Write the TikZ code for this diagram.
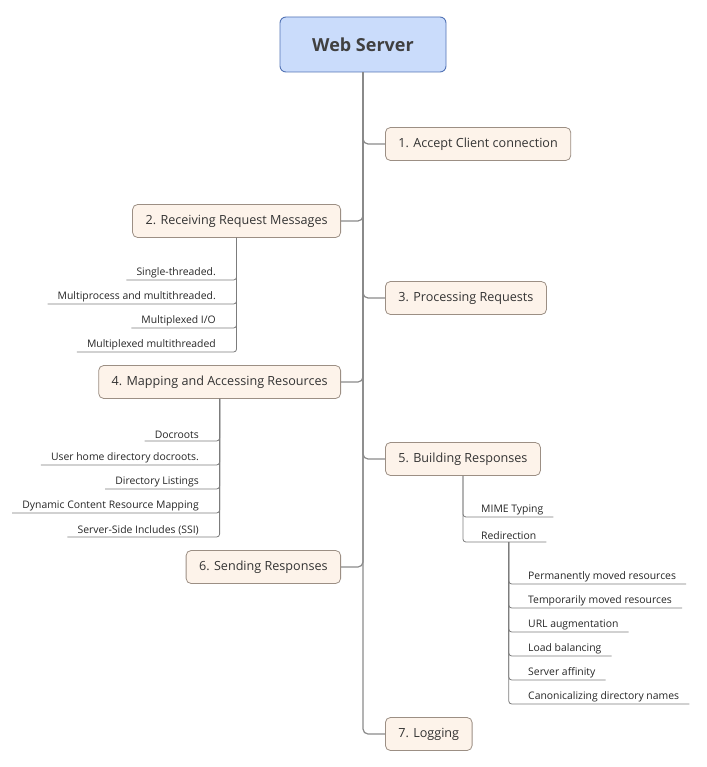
\documentclass[tikz,border=0pt]{standalone}
\usepackage{fontspec}
\setmainfont{Open Sans}
\usetikzlibrary{positioning}
\definecolor{topicfill}{HTML}{FDF3EA}
\definecolor{topicline}{HTML}{9C8F84}
\definecolor{rootfill}{HTML}{CADCFB}
\definecolor{rootline}{HTML}{5273B5}
\definecolor{stem}{HTML}{8A8A8A}
\begin{document}
\begin{tikzpicture}[x=1pt, y=-1pt,
  rootbox/.style={draw=rootline, fill=rootfill, rounded corners=6pt, line width=0.9pt,
    minimum width=166pt, minimum height=55pt, text=black!75,
    font=\fontsize{18}{21}\selectfont\bfseries},
  topic/.style={draw=topicline, fill=topicfill, rounded corners=5pt, line width=0.8pt,
    minimum height=33pt, inner xsep=13pt, text=black!80,
    font=\fontsize{12.6}{15}\selectfont},
  leafL/.style={anchor=south east, inner xsep=10pt, inner ysep=2pt, text=black!85,
    font=\fontsize{10.4}{12}\selectfont},
  leafR/.style={leafL, anchor=south west},
  trunk/.style={draw=stem, line width=1.2pt, rounded corners=5pt},
  twig/.style={draw=stem!90!black, line width=0.8pt, rounded corners=3pt}
]
\useasboundingbox (0,0) rectangle (706,767);

\node[rootbox] (root) at (363,44.5) {Web Server};

\node[topic, anchor=west] (n1) at (385,144) {1. Accept Client connection};
\node[topic, anchor=east] (n2) at (341,221) {2. Receiving Request Messages};
\node[topic, anchor=west] (n3) at (385,298) {3. Processing Requests};
\node[topic, anchor=east] (n4) at (341,382) {4. Mapping and Accessing Resources};
\node[topic, anchor=west] (n5) at (385,459) {5. Building Responses};
\node[topic, anchor=east] (n6) at (341,567) {6. Sending Responses};
\node[topic, anchor=west] (n7) at (385,734) {7. Logging};

\foreach \n/\side in {n1/west, n2/east, n3/west, n4/east, n5/west, n6/east, n7/west}
  \draw[trunk] (root.south) |- (\n.\side);

% receiving
\foreach \y/\txt [count=\i] in {280/{Single-threaded.}, 304/{Multiprocess and multithreaded.},
    328/{Multiplexed I/O}, 352/{Multiplexed multithreaded}} {
  \node[leafL] (rq\i) at (226,\y) {\txt};
  \draw[twig] (n2.south) |- (rq\i.south west);
}

% mapping
\foreach \y/\txt [count=\i] in {441/{Docroots}, 465/{User home directory docroots.},
    489/{Directory Listings}, 513/{Dynamic Content Resource Mapping},
    537/{Server-Side Includes (SSI)}} {
  \node[leafL] (mp\i) at (209,\y) {\txt};
  \draw[twig] (n4.south) |- (mp\i.south west);
}

% building
\node[leafR] (mime) at (471,517) {MIME Typing};
\node[leafR] (redir) at (471,542) {Redirection};
\foreach \b in {mime, redir}
  \draw[twig] (n5.south) |- (\b.south east);

\foreach \y/\txt [count=\i] in {584/{Permanently moved resources}, 608/{Temporarily moved resources},
    632/{URL augmentation}, 656/{Load balancing}, 680/{Server affinity},
    704/{Canonicalizing directory names}} {
  \node[leafR] (rd\i) at (518,\y) {\txt};
  \draw[twig] (redir.south) |- (rd\i.south east);
}
\end{tikzpicture}
\end{document}
